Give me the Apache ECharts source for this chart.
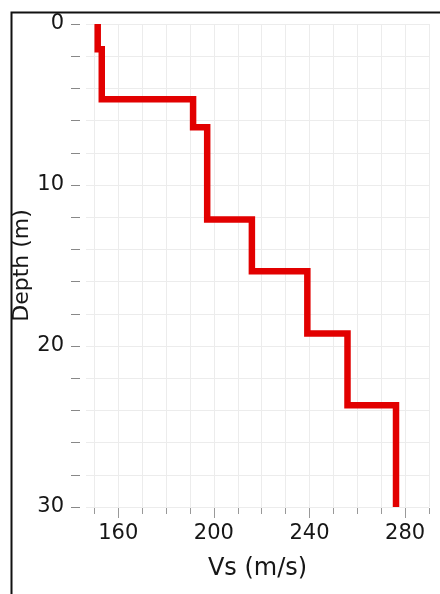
<!DOCTYPE html>
<html>
<head>
<meta charset="utf-8">
<script src="https://cdn.jsdelivr.net/npm/echarts@6/dist/echarts.min.js"></script>
<style>
html,body{margin:0;padding:0;background:#fff;}
#chart{width:440px;height:594px;}
</style>
</head>
<body>
<div id="chart"></div>
<script>
// Layer boundaries (depth, m) and shear-wave velocities (m/s)
var layerTops    = [0, 1.57, 4.68, 6.42, 12.14, 15.35, 19.23, 23.68];
var layerBottoms = [1.57, 4.68, 6.42, 12.14, 15.35, 19.23, 23.68, 30];
var layerVs      = [151.4, 153.1, 191.3, 197.2, 215.9, 239.1, 255.9, 276.2];
var xMajorTicks  = [160, 200, 240, 280];
var xMinorTicks  = [150, 160, 170, 180, 190, 200, 210, 220, 230, 240, 250, 260, 270, 280, 290];
var yTickLabels  = [0, 10, 20, 30];

var profile = [];
for (var i = 0; i < layerVs.length; i++) {
  profile.push([layerVs[i], layerTops[i]]);
  profile.push([layerVs[i], layerBottoms[i]]);
}

var FONT = 'DejaVu Sans';
var TXT = '#161616';
var chart = echarts.init(document.getElementById('chart'), null, {renderer: 'canvas'});
chart.setOption({
  animation: false,
  backgroundColor: '#fff',
  grid: {left: 86, right: 11, top: 24, bottom: 87, containLabel: false, outerBoundsMode: 'none'},
  xAxis: [{
    type: 'value', min: 146.5, max: 290, position: 'bottom', offset: 1,
    name: 'Vs (m/s)', nameLocation: 'middle', nameGap: 49,
    nameTextStyle: {fontFamily: FONT, fontSize: 24, color: TXT},
    axisLine: {show: false, onZero: false},
    axisTick: {show: true, length: 10, customValues: xMajorTicks, lineStyle: {color: '#999', width: 1}},
    axisLabel: {customValues: xMajorTicks, margin: 15, fontFamily: FONT, fontSize: 21, color: TXT},
    splitLine: {show: false}
  }, {
    type: 'value', min: 146.5, max: 290, position: 'bottom', offset: 1,
    axisLine: {show: false, onZero: false},
    axisTick: {show: true, length: 6, customValues: xMinorTicks, lineStyle: {color: '#999', width: 1}},
    axisLabel: {show: false, customValues: xMinorTicks},
    splitLine: {show: true, lineStyle: {color: '#ececec', width: 1}}
  }],
  yAxis: {
    type: 'value', min: 0, max: 30, interval: 2, inverse: true, offset: 6,
    name: 'Depth (m)', nameLocation: 'middle', nameGap: 47, nameMoveOverlap: false,
    nameTextStyle: {fontFamily: FONT, fontSize: 22, color: TXT},
    axisLine: {show: false, onZero: false},
    axisTick: {show: true, length: 9, lineStyle: {color: '#888', width: 1}},
    axisLabel: {
      margin: 16, fontFamily: FONT, fontSize: 21, color: TXT,
      formatter: function (v) { return yTickLabels.indexOf(v) >= 0 ? String(v) : ''; }
    },
    splitLine: {show: true, lineStyle: {color: '#ececec', width: 1}}
  },
  series: [{
    type: 'line', xAxisIndex: 0, data: profile, showSymbol: false,
    lineStyle: {color: '#e20000', width: 6.5, join: 'miter', cap: 'butt'},
    z: 5
  }],
  graphic: [{
    type: 'rect', left: 9, top: 10, silent: true,
    shape: {width: 460, height: 620},
    style: {fill: 'none', stroke: '#111', lineWidth: 2}
  }]
});
</script>
</body>
</html>
